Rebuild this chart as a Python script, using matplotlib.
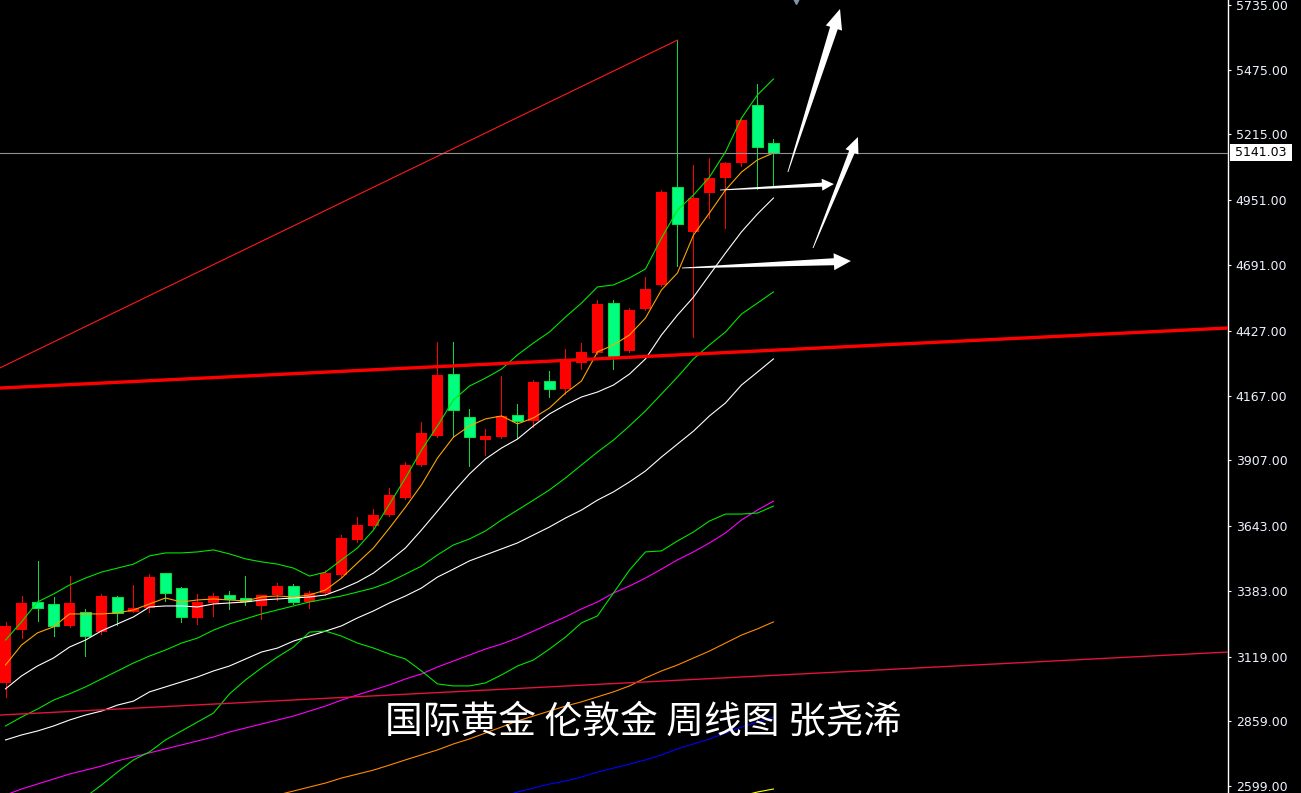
import numpy as np
import matplotlib
matplotlib.use("Agg")
import matplotlib.pyplot as plt
from matplotlib.patches import Polygon, Rectangle
from matplotlib.transforms import blended_transform_factory

# ---------------- data (weekly XAUUSD) ----------------
opens = [3013, 3225, 3338, 3330, 3242, 3298, 3217, 3358, 3298, 3314,
         3454, 3394, 3274, 3334, 3366, 3354, 3322, 3366, 3402, 3338,
         3374, 3446, 3587, 3643, 3687, 3756, 3888, 4004, 4253, 4081,
         3988, 4000, 4089, 4065, 4225, 4193, 4298, 4338, 4538, 4346,
         4514, 4611, 5004, 4823, 4980, 5040, 5101, 5333, 5181]
highs = [3258, 3362, 3503, 3358, 3442, 3310, 3370, 3362, 3406, 3450,
         3456, 3398, 3370, 3374, 3382, 3442, 3368, 3414, 3410, 3382,
         3466, 3607, 3679, 3711, 3796, 3900, 4061, 4382, 4382, 4113,
         4033, 4245, 4133, 4229, 4265, 4354, 4378, 4550, 4550, 4518,
         4643, 4992, 5594, 5092, 5121, 5105, 5277, 5418, 5197]
lows = [2957, 3193, 3262, 3201, 3238, 3121, 3209, 3246, 3296, 3298,
        3342, 3258, 3250, 3282, 3310, 3326, 3270, 3346, 3330, 3314,
        3366, 3438, 3579, 3635, 3683, 3752, 3884, 4000, 4000, 3884,
        3928, 3996, 3996, 4041, 4161, 4173, 4273, 4334, 4273, 4342,
        4510, 4607, 4687, 4402, 4880, 4840, 5088, 4996, 5012]
closes = [3242, 3334, 3314, 3242, 3334, 3201, 3362, 3294, 3314, 3438,
          3374, 3278, 3338, 3362, 3350, 3342, 3366, 3402, 3338, 3374,
          3454, 3595, 3647, 3687, 3768, 3888, 4016, 4249, 4109, 4000,
          4004, 4085, 4065, 4221, 4193, 4310, 4342, 4534, 4326, 4510,
          4595, 4984, 4856, 4960, 5040, 5101, 5273, 5165, 5141.03]

ma_fast = [3085, 3165, 3214, 3238, 3290, 3290, 3290, 3294, 3306, 3330,
           3354, 3338, 3346, 3350, 3346, 3342, 3358, 3362, 3358, 3366,
           3386, 3434, 3495, 3555, 3635, 3719, 3808, 3916, 4000, 4045,
           4073, 4085, 4053, 4077, 4117, 4177, 4225, 4342, 4370, 4410,
           4478, 4591, 4659, 4811, 4900, 4992, 5064, 5113, 5141]
ma_white1 = [2989, 3041, 3081, 3113, 3157, 3185, 3222, 3250, 3278, 3318,
             3322, 3322, 3318, 3330, 3334, 3338, 3346, 3350, 3354, 3358,
             3366, 3390, 3418, 3454, 3503, 3555, 3627, 3703, 3780, 3852,
             3912, 3956, 3992, 4045, 4093, 4129, 4161, 4181, 4209, 4253,
             4314, 4410, 4490, 4562, 4651, 4739, 4824, 4896, 4960]
bb_upper = [3185, 3258, 3338, 3370, 3406, 3434, 3458, 3474, 3490, 3523,
            3535, 3535, 3539, 3547, 3531, 3511, 3499, 3490, 3474, 3442,
            3458, 3507, 3555, 3627, 3731, 3836, 3948, 4045, 4149, 4205,
            4237, 4273, 4330, 4378, 4422, 4482, 4538, 4603, 4611, 4639,
            4675, 4799, 4912, 4972, 5044, 5145, 5281, 5374, 5438]
bb_mid = [2840, 2876, 2908, 2944, 2969, 2997, 3029, 3061, 3093, 3121,
          3145, 3173, 3193, 3225, 3250, 3270, 3290, 3306, 3322, 3338,
          3350, 3362, 3378, 3394, 3418, 3450, 3482, 3527, 3567, 3591,
          3623, 3667, 3707, 3747, 3788, 3836, 3888, 3940, 3988, 4045,
          4105, 4173, 4241, 4314, 4370, 4422, 4494, 4538, 4583]
bb_lower = [np.nan, np.nan, np.nan, np.nan, np.nan, 2555, 2603, 2655, 2704, 2736,
            2784, 2820, 2856, 2892, 2969, 3025, 3073, 3117, 3157, 3217,
            3221, 3201, 3173, 3153, 3129, 3109, 3061, 3009, 3001, 3001,
            3013, 3045, 3081, 3105, 3149, 3197, 3254, 3282, 3374, 3466,
            3539, 3543, 3583, 3619, 3663, 3691, 3691, 3695, 3723]
ma_white2 = [2784, 2804, 2820, 2840, 2864, 2884, 2900, 2924, 2940, 2977,
             2997, 3017, 3037, 3061, 3081, 3109, 3137, 3153, 3181, 3201,
             3221, 3242, 3274, 3302, 3334, 3362, 3394, 3438, 3470, 3503,
             3527, 3551, 3575, 3607, 3639, 3675, 3707, 3747, 3780, 3820,
             3864, 3920, 3972, 4024, 4085, 4137, 4209, 4261, 4314]
ma_magenta = [2563, 2587, 2607, 2627, 2647, 2663, 2679, 2700, 2716, 2732,
              2748, 2764, 2780, 2796, 2816, 2832, 2848, 2864, 2880, 2900,
              2920, 2944, 2965, 2985, 3005, 3029, 3049, 3077, 3101, 3125,
              3149, 3169, 3193, 3221, 3250, 3278, 3310, 3338, 3374, 3402,
              3434, 3470, 3507, 3539, 3575, 3615, 3667, 3707, 3743]
ma_orange_slow = [np.nan] * 17 + [
    2563, 2579, 2595, 2611, 2631, 2647, 2663, 2683, 2704, 2724,
    2744, 2768, 2788, 2812, 2836, 2860, 2880, 2900, 2920, 2937,
    2957, 2977, 3001, 3033, 3061, 3085, 3113, 3141, 3173, 3205,
    3230, 3258]
ma_blue = [np.nan] * 31 + [
    2555, 2575, 2591, 2607, 2619, 2635, 2655, 2671, 2687, 2704,
    2724, 2748, 2768, 2788, 2812, 2836, 2856, 2876]
ma_yellow = [np.nan] * 46 + [2559, 2575, 2587]

# trend lines: (bar index, price) pairs
trend_thin = [(-0.34, 4278), (42, 5594)]
trend_thick = [(-0.34, 4197), (76.41, 4438)]
trend_low = [(-0.34, 2884), (76.41, 3137)]
last_price = 5141.03

# hand-drawn arrows: tail (index, price) -> tip (index, price)
arrows = [((48.9, 5064), (52.16, 5719)),
          ((44.66, 4992), (51.78, 5016)),
          ((50.47, 4759), (53.28, 5205)),
          ((42.28, 4679), (52.84, 4707))]

ytick_vals = [5735, 5475, 5215, 4951, 4691, 4427, 4167, 3907, 3643, 3383, 3119, 2859, 2599]
title = "国际黄金 伦敦金 周线图 张尧浠"

# ---------------- drawing ----------------
W, H = 1301, 793
plt.rcParams['font.family'] = ['DejaVu Sans']
fig = plt.figure(figsize=(W / 100, H / 100), dpi=100, facecolor='black')
ax = fig.add_axes([0, 0, 1228 / W, 1])
ax.set_facecolor('black')
ax.set_xlim(-0.344, 76.41)
ax.set_ylim(2571, 5755)

idx = np.arange(len(opens))
o = np.array(opens, float); h = np.array(highs, float)
l = np.array(lows, float); c = np.array(closes, float)
up = c >= o
RED = '#ff0000'
GBODY = '#00ff80'
GEDGE = '#10d840'

ax.vlines(idx[up], l[up], h[up], color=RED, lw=0.7, zorder=2, antialiased=False)
ax.vlines(idx[~up], l[~up], h[~up], color=GEDGE, lw=0.7, zorder=2, antialiased=False)
ax.bar(idx[up], c[up] - o[up], bottom=o[up], width=0.74, color=RED, lw=0, zorder=3)
ax.bar(idx[~up], o[~up] - c[~up], bottom=c[~up], width=0.70, color=GBODY,
       edgecolor=GEDGE, lw=0.8, zorder=3)

lw1 = 0.8
ax.plot(idx, ma_yellow, color='#ffff00', lw=lw1, zorder=4)
ax.plot(idx, ma_blue, color='#0000ff', lw=lw1, zorder=4)
ax.plot(idx, ma_orange_slow, color='#ff8c00', lw=lw1, zorder=4)
ax.plot(idx, ma_magenta, color='#ff00ff', lw=lw1, zorder=4)
ax.plot(idx, ma_white2, color='#ffffff', lw=lw1, zorder=4)
ax.plot(idx, bb_lower, color='#00e600', lw=lw1, zorder=4)
ax.plot(idx, bb_mid, color='#00e600', lw=lw1, zorder=4)
ax.plot(idx, bb_upper, color='#00e600', lw=lw1, zorder=4)
ax.plot(idx, ma_white1, color='#ffffff', lw=lw1, zorder=4)
ax.plot(idx, ma_fast, color='#ffa500', lw=lw1, zorder=4)

# trend lines
ax.plot(*zip(*trend_thin), color='#ff1a1a', lw=0.8, zorder=5)
ax.plot(*zip(*trend_thick), color='#ff0000', lw=2.4, zorder=5)
ax.plot(*zip(*trend_low), color='#e0143c', lw=1.0, zorder=5)
ax.axhline(last_price, color='#909090', lw=0.8, zorder=5)

# small object marker at top
ax.plot([49.4], [5751], marker='v', ms=4, color='#8094a8', clip_on=False, zorder=6)

# tapered arrows (built in display space, converted back to data)
arrow_dims = [(8, 17, 20), (4, 12, 12), (6, 14, 16), (7, 17, 17)]
fig.canvas.draw()
inv = ax.transData.inverted()
for (tail, tip), (sw, hw, hl) in zip(arrows, arrow_dims):
    p0 = ax.transData.transform(tail)
    p1 = ax.transData.transform(tip)
    d = p1 - p0
    L = np.hypot(*d)
    u = d / L
    n = np.array([-u[1], u[0]])
    base = p1 - u * hl
    pts = [p0 + n * 0.4, base + n * sw / 2, base + n * hw / 2, p1,
           base - n * hw / 2, base - n * sw / 2, p0 - n * 0.4]
    ax.add_patch(Polygon(inv.transform(np.array(pts)), closed=True,
                         fc='white', ec='none', zorder=6))

# axis styling
for s in ['left', 'top', 'bottom']:
    ax.spines[s].set_visible(False)
ax.spines['right'].set_color('white')
ax.spines['right'].set_linewidth(1.0)
ax.set_xticks([])
ax.yaxis.tick_right()
ax.set_yticks(ytick_vals)
ax.set_yticklabels([f"{v:.2f}" for v in ytick_vals])
ax.tick_params(axis='y', colors='white', direction='out', length=2.5, width=0.8,
               pad=3.0, labelsize=9, labelcolor='#eef2ff')

# last price label box
bt = blended_transform_factory(ax.transAxes, ax.transData)
px_per_price = (793) / (5755 - 2571)
half_h = 8.5 / px_per_price
ax.add_patch(Rectangle((1 + 2 / 1228, last_price - half_h), 62 / 1228, 2 * half_h,
                       transform=bt, fc='white', ec='none', clip_on=False, zorder=7))
ax.text(1 + 7 / 1228, last_price, f"{last_price:.2f}", transform=bt, ha='left',
        va='center', fontsize=9, color='black', clip_on=False, zorder=8)

fig.text(643 / W, 1 - 722 / H, title, ha='center', va='center', color='white',
         fontsize=27.2, family=['Noto Sans CJK SC', 'DejaVu Sans'], zorder=9)

fig.savefig('out.png', dpi=100, facecolor='black')
